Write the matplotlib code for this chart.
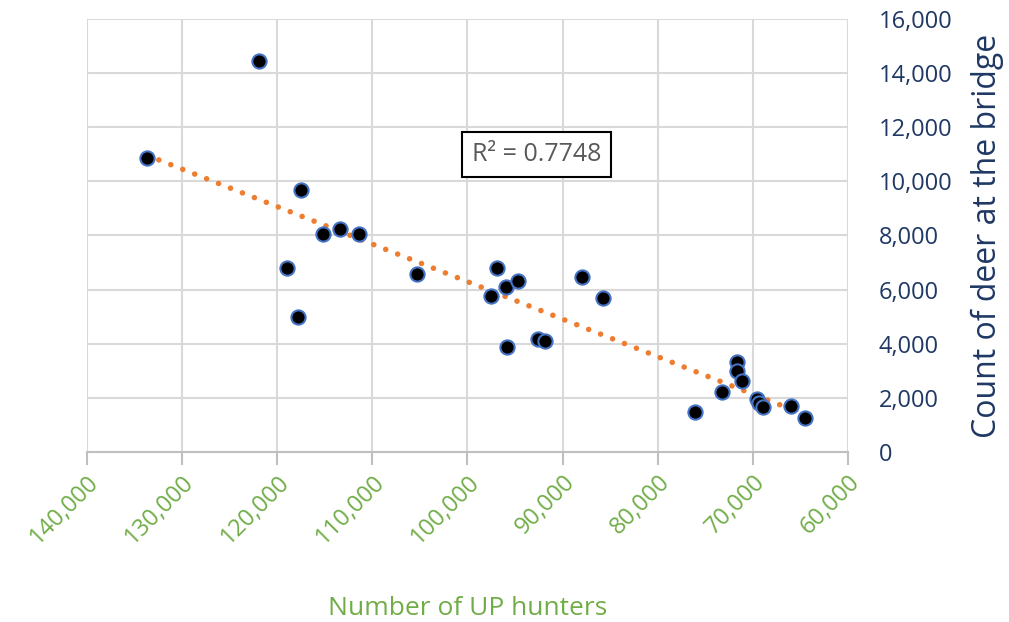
import numpy as np
import matplotlib
matplotlib.use("Agg")
import matplotlib.pyplot as plt
from matplotlib.ticker import FuncFormatter, MultipleLocator

hunters = [133700, 121900, 117500, 119000, 117800, 115200, 113350, 111400, 105260,
           96860, 95990, 97560, 94690, 95880, 92630, 91890, 88000, 85760,
           76130, 73190, 71650, 71650, 71160, 69590, 69310, 68890, 65980, 64470]
deer = [10860, 14430, 9690, 6810, 4990, 8050, 8230, 8060, 6570,
        6810, 6090, 5780, 6320, 3890, 4190, 4090, 6470, 5690,
        1490, 2210, 3340, 3010, 2610, 1950, 1800, 1680, 1700, 1250]
r2_label = "R\u00b2 = 0.7748"
x_title = "Number of UP hunters"
y_title = "Count of deer at the bridge"

plt.rcParams['font.family'] = ['Open Sans', 'DejaVu Sans']

fig = plt.figure(figsize=(10.09, 6.22), dpi=100)
ax = fig.add_axes([0.0862, 0.2733, 0.8404 - 0.0862, 0.9695 - 0.2733])

x = np.array(hunters, float)
y = np.array(deer, float)
m, b = np.polyfit(x, y, 1)
xs = np.array([x.max(), x.min()])
ax.plot(xs, m * xs + b, color='#ED7D31', lw=4, linestyle=(0, (0.01, 2.3)),
        dash_capstyle='round', zorder=2)
ax.scatter(x, y, s=105, facecolor='black', edgecolor='#4472C4', linewidth=1.5, zorder=3)

ax.set_xlim(140000, 60000)
ax.set_ylim(0, 16000)
ax.xaxis.set_major_locator(MultipleLocator(10000))
ax.yaxis.set_major_locator(MultipleLocator(2000))
fmt = FuncFormatter(lambda v, p: f"{int(round(v)):,}")
ax.xaxis.set_major_formatter(fmt)
ax.yaxis.set_major_formatter(fmt)

ax.grid(True, color='#D9D9D9', lw=1.5)
ax.set_axisbelow(True)
for s in ['top', 'left', 'right']:
    ax.spines[s].set_visible(False)
ax.spines['bottom'].set_color('#BFBFBF')
ax.spines['bottom'].set_linewidth(1.5)

ax.yaxis.tick_right()
ax.yaxis.set_label_position('right')
ax.tick_params(axis='y', length=0, pad=22, labelsize=17, labelcolor='#1F3864')
ax.tick_params(axis='x', length=9, width=1.5, color='#BFBFBF', pad=4,
               labelsize=17, labelcolor='#70AD47')
for lab in ax.get_xticklabels():
    lab.set_rotation(45)
    lab.set_ha('right')
    lab.set_va('top')
    lab.set_rotation_mode('anchor')

ax.set_ylabel(y_title, fontsize=23, color='#1F3864', labelpad=13)
ax.set_xlabel(x_title, fontsize=19, color='#70AD47', labelpad=34)

ax.text(92730, 10980, r2_label, fontsize=18, color='#595959', ha='center', va='center',
        bbox=dict(boxstyle='square,pad=0.4', facecolor='white', edgecolor='black', lw=1.5),
        zorder=4)

fig.savefig('out.png', dpi=100)
